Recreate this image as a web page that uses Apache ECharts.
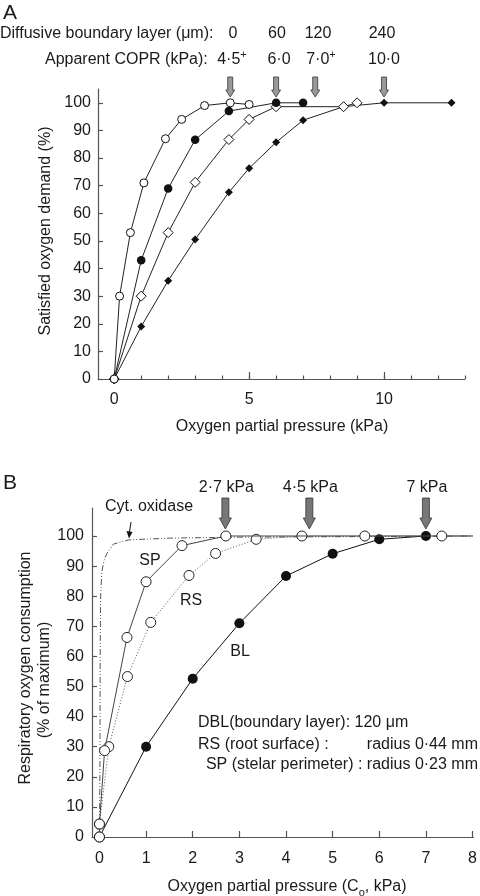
<!DOCTYPE html>
<html><head><meta charset="utf-8">
<script src="https://cdn.jsdelivr.net/npm/echarts@6/dist/echarts.min.js"></script>
<style>html,body{margin:0;padding:0;background:#fff}#c{width:480px;height:896px}</style>
</head><body><div id="c"></div>
<script>
// ---------- Panel A data ----------
const aTicksX = [0,1,2,3,4,5,6,7,8,9,10,11,12,13];
const aLabelsX = [0,5,10];
const aTicksY = [0,10,20,30,40,50,60,70,80,90,100];
const dbl0X = [0, 0.2, 0.6, 1.1, 1.9, 2.5, 3.35, 4.3, 5.0];
const dbl0Y = [0, 30, 53, 71, 87, 94, 99, 100, 99.4];
const dbl60X = [0, 1, 2, 3, 4.25, 6, 7];
const dbl60Y = [0, 43, 69, 86.6, 97, 100, 100];
const dbl120X = [0, 1, 2, 3, 4.25, 5, 6, 8.5, 9];
const dbl120Y = [0, 30, 53, 71.2, 86.7, 94, 98.6, 98.6, 100];
const dbl240X = [0, 1, 2, 3, 4.25, 5, 6, 7, 8.5, 10, 12.5];
const dbl240Y = [0, 19, 35.6, 50.5, 67.6, 76.3, 85.7, 93.7, 98.6, 100, 100];
const dblLabels = ['0', '60', '120', '240'];
const coprLabels = ['4·5', '6·0', '7·0', '10·0'];
const coprPlus = [true, false, true, false];
const arrowsAX = [4.3, 6.0, 7.45, 10];

// ---------- Panel B data ----------
const bTicksX = [0,1,2,3,4,5,6,7,8];
const bTicksY = [0,10,20,30,40,50,60,70,80,90,100];
const blX = [0, 1, 2, 3, 4, 5, 6, 7];
const blY = [0, 30, 52.6, 71, 86.7, 94.1, 98.9, 100];
const spX = [0, 0, 0.11, 0.59, 1.0, 1.77, 2.71, 5.69, 7.34, 8];
const spY = [0, 4.3, 28.7, 66.3, 84.8, 96.8, 100, 100, 100, 100];
const rsX = [0, 0, 0.2, 0.6, 1.1, 1.92, 2.49, 3.36, 4.34, 8];
const rsY = [0, 4.3, 30, 53.3, 71.3, 86.9, 94.2, 98.9, 100, 100];
const cytX = [0, 0.012, 0.015, 0.025, 0.05, 0.1, 0.16, 0.3, 0.62, 1.5, 3, 8];
const cytY = [0, 30, 60, 80, 88, 92, 94.2, 97.3, 98.7, 99.3, 99.6, 100];
const arrowsBX = [2.7, 4.5, 7.0];
const arrowsBLabels = ['2·7 kPa', '4·5 kPa', '7 kPa'];

const FONT = 'Liberation Sans, Arial, Helvetica, sans-serif';
const TXT = '#1a1a1a';
const AX = '#555';

function pts(xs, ys, bareLast) {
  return xs.map((x, i) => {
    if (bareLast && i === xs.length - 1) return { value: [x, ys[i]], symbol: 'none' };
    return [x, ys[i]];
  });
}

const chart = echarts.init(document.getElementById('c'), null, { renderer: 'canvas' });

const lbl = { fontFamily: FONT, fontSize: 16, color: TXT };
function xMain(grid, min, max, ticks, labels, tlen, margin) {
  return {
    type: 'value', gridIndex: grid, min: min, max: max, position: 'bottom',
    axisLine: { show: true, onZero: false, lineStyle: { color: AX, width: 1.2 } },
    axisTick: { show: true, inside: true, length: tlen, customValues: ticks, lineStyle: { color: AX, width: 1.2 } },
    axisLabel: Object.assign({ show: true, customValues: labels, margin: margin }, lbl),
    splitLine: { show: false }
  };
}
function yMain(grid, min, max, ticks, margin) {
  return {
    type: 'value', gridIndex: grid, min: min, max: max,
    axisLine: { show: true, onZero: false, lineStyle: { color: AX, width: 1.2 } },
    axisTick: { show: true, inside: true, length: 5, customValues: ticks, lineStyle: { color: AX, width: 1.2 } },
    axisLabel: Object.assign({ show: true, customValues: ticks, margin: margin }, lbl),
    splitLine: { show: false }
  };
}

const xA = xMain(0, -0.6, 13.0, aLabelsX, aLabelsX, 7, 13);
const xAminor = {
  type: 'value', gridIndex: 0, min: -0.6, max: 13.0, position: 'bottom',
  axisLine: { show: false },
  axisTick: { show: true, inside: true, length: 3.5, customValues: aTicksX, lineStyle: { color: AX, width: 1.2 } },
  axisLabel: { show: false }, splitLine: { show: false }
};
const xB = xMain(1, -0.16, 8.02, bTicksX, bTicksX, 6, 14);

function lineSeries(name, xi, yi, data, opt) {
  return Object.assign({
    name: name, type: 'line', xAxisIndex: xi, yAxisIndex: yi, data: data,
    showSymbol: true, clip: false, animation: false,
    lineStyle: { color: '#222', width: 1 }
  }, opt);
}

const series = [
  lineSeries('DBL 240', 0, 0, pts(dbl240X, dbl240Y), { symbol: 'diamond', symbolSize: 8, itemStyle: { color: '#111' }, z: 2 }),
  lineSeries('DBL 120', 0, 0, pts(dbl120X, dbl120Y), { symbol: 'diamond', symbolSize: 10, itemStyle: { color: '#fff', borderColor: '#111', borderWidth: 1 }, z: 3 }),
  lineSeries('DBL 60', 0, 0, pts(dbl60X, dbl60Y), { symbol: 'circle', symbolSize: 8.5, itemStyle: { color: '#111' }, z: 4 }),
  lineSeries('DBL 0', 0, 0, pts(dbl0X, dbl0Y), { symbol: 'circle', symbolSize: 8, itemStyle: { color: '#fff', borderColor: '#111', borderWidth: 1 }, z: 5 }),
  lineSeries('Cyt. oxidase', 2, 1, pts(cytX, cytY), { symbol: 'none', showSymbol: false, lineStyle: { color: '#555', width: 1, type: [6, 2, 1, 2, 1, 2] }, z: 2 }),
  lineSeries('BL', 2, 1, pts(blX, blY), { symbol: 'circle', symbolSize: 10, itemStyle: { color: '#111' }, lineStyle: { color: '#111', width: 1 }, z: 3 }),
  lineSeries('RS', 2, 1, pts(rsX, rsY, true), { symbol: 'circle', symbolSize: 10, itemStyle: { color: '#fff', borderColor: '#222', borderWidth: 1 }, lineStyle: { color: '#555', width: 1, type: [1, 2] }, z: 4 }),
  lineSeries('SP', 2, 1, pts(spX, spY, true), { symbol: 'circle', symbolSize: 10, itemStyle: { color: '#fff', borderColor: '#222', borderWidth: 1 }, lineStyle: { color: '#444', width: 1 }, z: 5 })
];

function txt(text, x, y, o) {
  o = o || {};
  return {
    type: 'text', x: x, y: y, rotation: o.rot || 0, z: 10,
    style: Object.assign({
      text: text, x: 0, y: 0, fill: TXT, fontFamily: FONT, fontSize: o.size || 16,
      align: o.align || 'left', textAlign: o.align || 'left',
      verticalAlign: 'middle', textVerticalAlign: 'middle'
    }, o.style || {})
  };
}

const baseGraphics = [
  txt('A', 3, 13, { size: 21 }),
  txt('B', 3, 483, { size: 21 }),
  txt('Diffusive boundary layer (μm):', 0, 34),
  txt('Apparent COPR (kPa):', 45, 60),
  txt('Satisfied oxygen demand (%)', 46, 231, { rot: Math.PI / 2, align: 'center' }),
  txt('Oxygen partial pressure (kPa)', 282, 427, { align: 'center' }),
  txt('Respiratory oxygen consumption', 26, 668, { rot: Math.PI / 2, align: 'center' }),
  txt('(% of maximum)', 45, 680, { rot: Math.PI / 2, align: 'center' }),
  txt('', 287, 887, { align: 'center', style: {
    text: '{n|Oxygen partial pressure (C}{s|o}{n|, kPa)}',
    rich: { n: { fontFamily: FONT, fontSize: 16, fill: TXT, lineHeight: 22, verticalAlign: 'middle' },
            s: { fontFamily: FONT, fontSize: 11, fill: TXT, lineHeight: 22, verticalAlign: 'bottom' } } } }),
  txt('Cyt. oxidase', 105, 507),
  txt('SP', 150, 561, { align: 'center' }),
  txt('RS', 191, 601, { align: 'center' }),
  txt('BL', 240, 652, { align: 'center' }),
  txt('DBL(boundary layer): 120 μm', 198, 723),
  txt('RS (root surface) :', 198, 745),
  txt('radius 0·44 mm', 478, 745, { align: 'right' }),
  txt('SP (stelar perimeter) : radius 0·23 mm', 478, 765, { align: 'right' }),
  { type: 'line', z: 10, shape: { x1: 131, y1: 522, x2: 129.3, y2: 533 }, style: { stroke: '#111', lineWidth: 1 } },
  { type: 'polygon', z: 10, shape: { points: [[126.5, 531], [132.5, 532], [129, 538.5]] }, style: { fill: '#111' } }
];

chart.setOption({
  animation: false,
  backgroundColor: '#fff',
  grid: [
    { left: 98, top: 89, width: 367, height: 290 },
    { left: 92, top: 508, width: 383, height: 329 }
  ],
  xAxis: [xA, xAminor, xB],
  yAxis: [yMain(0, 0, 105, aTicksY, 7), yMain(1, 0, 109.3, bTicksY, 8)],
  series: series,
  graphic: baseGraphics
});

function arrow(x, y0, y1, y2, w, hw, fill) {
  return {
    type: 'polygon', z: 10,
    shape: { points: [[x - w / 2, y0], [x + w / 2, y0], [x + w / 2, y1], [x + hw / 2, y1], [x, y2], [x - hw / 2, y1], [x - w / 2, y1]] },
    style: { fill: fill, stroke: '#333', lineWidth: 0.8 }
  };
}

const extra = [];
arrowsAX.forEach((v, i) => {
  const px = chart.convertToPixel({ xAxisIndex: 0 }, v);
  extra.push(arrow(px, 77, 90, 97, 5, 9, '#999'));
});
const dblPx = [233, 277, 318, 382];
const coprPx = [232, 279, 321, 384];
dblLabels.forEach((t, i) => extra.push(txt(t, dblPx[i], 34, { align: 'center' })));
coprLabels.forEach((t, i) => {
  extra.push(txt('', coprPx[i], 60, { align: 'center', style: {
    text: coprPlus[i] ? '{n|' + t + '}{s|+}' : '{n|' + t + '}',
    rich: { n: { fontFamily: FONT, fontSize: 16, fill: TXT, lineHeight: 22, verticalAlign: 'middle' },
            s: { fontFamily: FONT, fontSize: 11, fill: TXT, lineHeight: 22, verticalAlign: 'top' } } } }));
});
arrowsBX.forEach((v, i) => {
  const px = chart.convertToPixel({ xAxisIndex: 2 }, v);
  extra.push(arrow(px, 498, 518, 529, 7, 12, '#777'));
  extra.push(txt(arrowsBLabels[i], px + 1, 488, { align: 'center' }));
});

chart.setOption({ graphic: baseGraphics.concat(extra) }, { replaceMerge: ['graphic'] });
</script></body></html>
